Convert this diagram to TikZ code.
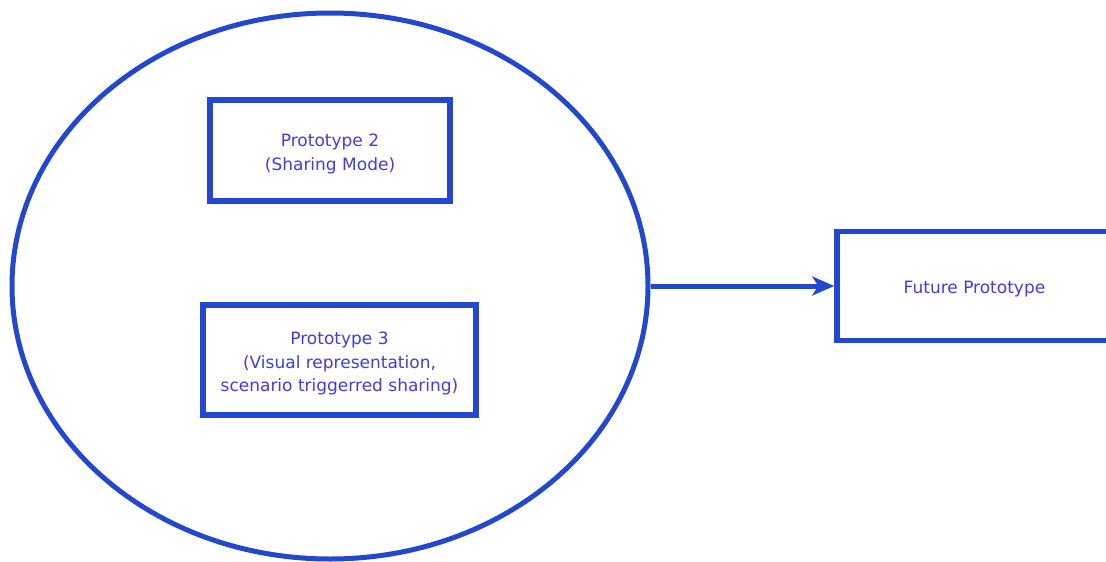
\documentclass[tikz,border=0pt]{standalone}
\usepackage{fontspec}
\setmainfont{DejaVu Sans}
\usetikzlibrary{shapes.geometric,arrows.meta}
\definecolor{lineblue}{RGB}{35,72,205}
\definecolor{textblue}{RGB}{62,62,222}
\tikzset{
  boxnode/.style={draw=lineblue, line width=5.5pt, rectangle, inner sep=0pt},
  boxtext/.style={align=center, text=textblue, inner sep=0pt, yshift=-3.5pt, font=\fontsize{17}{23.5}\selectfont},
  ringnode/.style={draw=lineblue, line width=5pt, ellipse, inner sep=0pt},
  conn/.style={draw=lineblue, line width=5pt, -{Stealth[length=22pt,width=19pt,inset=6pt]}}
}
\begin{document}
\begin{tikzpicture}[x=1pt,y=-1pt]
\clip (0,0) rectangle (1106,562);
\useasboundingbox (0,0) rectangle (1106,562);
\node[ringnode, minimum width=636pt, minimum height=546pt] (ring) at (330,286) {};
\node[boxnode, minimum width=240pt, minimum height=101pt,
  label={[boxtext]center:{Prototype 2\\(Sharing Mode)}}] (p2) at (330,150.5) {};
\node[boxnode, minimum width=273pt, minimum height=110pt,
  label={[boxtext]center:{Prototype 3\\(Visual representation,\\scenario triggerred sharing)}}] (p3) at (339.5,360) {};
\node[boxnode, minimum width=275pt, minimum height=109pt,
  label={[boxtext]center:{Future Prototype}}] (fut) at (974.5,286) {};
\draw[conn] (ring.east) -- (fut.west);
\end{tikzpicture}
\end{document}
